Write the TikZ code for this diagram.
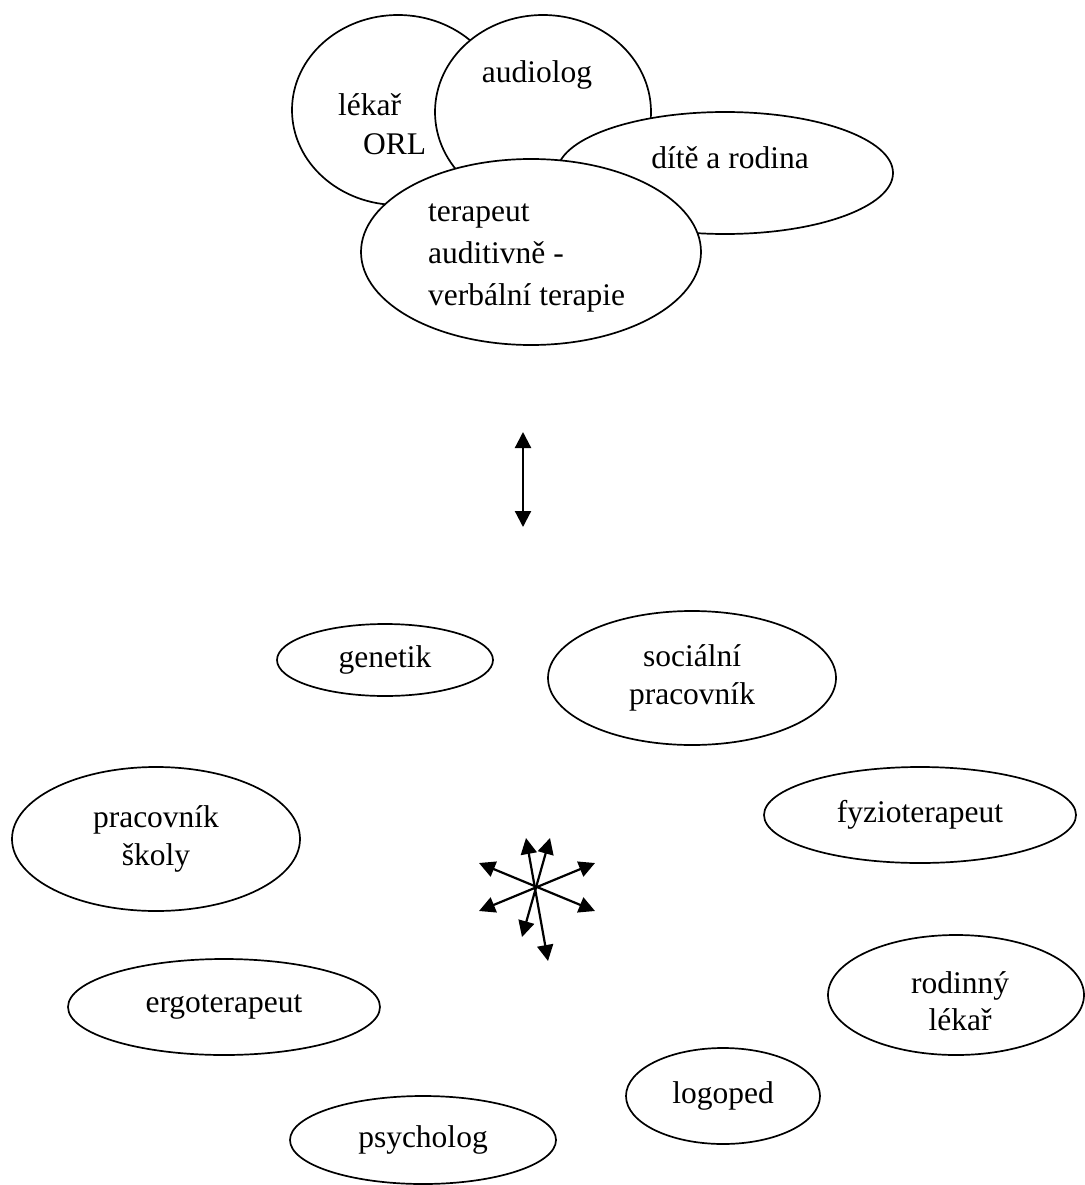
\documentclass[tikz,border=0pt]{standalone}
\usepackage{fontspec}
\setmainfont{Liberation Serif}
\usetikzlibrary{shapes.geometric,arrows.meta}
\tikzset{
  oval/.style={draw=black,fill=white,ellipse,line width=1.7pt,inner sep=0pt,align=center,
    font=\fontsize{31.5}{38}\selectfont},
  word/.style={inner sep=0pt,align=left,font=\fontsize{31.5}{42}\selectfont},
  tips/.style={line width=2.2pt,{Triangle[length=16pt,width=16pt]}-{Triangle[length=16pt,width=16pt]}}
}
\begin{document}
\begin{tikzpicture}[x=1pt,y=-1pt]
\useasboundingbox (0,0) rectangle (1084,1185);

\node[oval,minimum width=212pt,minimum height=190pt] (orl) at (398,110) {};
\node[word,anchor=north west] (orl-t) at (338,93) {lékař\\[-3pt]\hspace*{25pt}ORL};

\node[oval,minimum width=216pt,minimum height=194pt] (audio) at (543,112) {};
\node[word,anchor=base] (audio-t) at (537,83) {audiolog};

\node[oval,minimum width=336pt,minimum height=122pt] (rodina) at (725,173) {};
\node[word,anchor=base] (rodina-t) at (730,168) {dítě a rodina};

\node[oval,minimum width=340pt,minimum height=186pt] (avt) at (531,252) {};
\node[word,anchor=north west] (avt-t) at (428,204) {terapeut\\auditivně -\\verbální terapie};

\coordinate (up) at (523,432);
\coordinate (down) at (523,527);
\draw[tips] (up) -- (down);

\node[oval,minimum width=216pt,minimum height=72pt] (genetik) at (385,660) {genetik};
\node[oval,minimum width=288pt,minimum height=134pt] (socialni) at (692,678) {sociální\\pracovník};
\node[oval,minimum width=288pt,minimum height=144pt] (skola) at (156,839) {pracovník\\školy};
\node[oval,minimum width=312pt,minimum height=96pt] (fyzio) at (920,815) {fyzioterapeut};
\node[oval,minimum width=312pt,minimum height=96pt] (ergo) at (224,1007) {ergoterapeut};
\node[oval,minimum width=256pt,minimum height=120pt] (rodinny) at (956,995) {};
\node[word,align=center] (rodinny-t) at (960,1001) {rodinný\\[-5pt]lékař};
\node[oval,minimum width=194pt,minimum height=96pt] (logoped) at (723,1096) {logoped};
\node[oval,minimum width=266pt,minimum height=88pt] (psycholog) at (423,1140) {psycholog};

\coordinate (n1) at (526,838);
\coordinate (s1) at (548,961);
\coordinate (n2) at (550,838);
\coordinate (s2) at (522,937);
\coordinate (w1) at (479,863);
\coordinate (e1) at (595,911);
\coordinate (e2) at (595,863);
\coordinate (w2) at (479,911);
\draw[tips] (n1) -- (s1);
\draw[tips] (n2) -- (s2);
\draw[tips] (w1) -- (e1);
\draw[tips] (e2) -- (w2);
\end{tikzpicture}
\end{document}
